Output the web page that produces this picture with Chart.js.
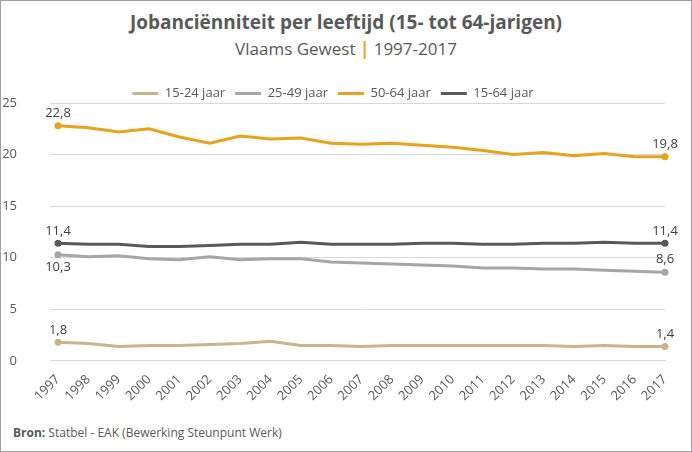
<!DOCTYPE html>
<html><head><meta charset="utf-8">
<script src="https://cdn.jsdelivr.net/npm/chart.js@4"></script>
<style>
html,body{margin:0;padding:0;background:#fff;}
#wrap{position:relative;width:690px;height:450px;border:1px solid #a0a0a0;font-family:"Open Sans",sans-serif;}
#t1{position:absolute;top:8px;width:100%;text-align:center;font-size:19px;font-weight:bold;color:#595959;}
#t2{position:absolute;top:36px;width:100%;text-align:center;font-size:17px;color:#595959;}
#src{position:absolute;left:12px;top:423px;font-size:12px;color:#595959;}
#cv{position:absolute;left:0;top:76px;}
</style></head><body>
<div id="wrap">
<div id="t1">Jobanciënniteit per leeftijd (15- tot 64-jarigen)</div>
<div id="t2">Vlaams Gewest <span style="color:#E8A21E;font-weight:bold">|</span> 1997-2017</div>
<canvas id="cv" width="690" height="330"></canvas>
<div id="src"><b>Bron:</b> Statbel - EAK (Bewerking Steunpunt Werk)</div>
</div>
<script>
const years=["1997","1998","1999","2000","2001","2002","2003","2004","2005","2006","2007","2008","2009","2010","2011","2012","2013","2014","2015","2016","2017"];
const s1524=[1.8,1.7,1.4,1.5,1.5,1.6,1.7,1.9,1.5,1.5,1.4,1.5,1.5,1.5,1.5,1.5,1.5,1.4,1.5,1.4,1.4];
const s2549=[10.3,10.1,10.2,9.9,9.8,10.1,9.8,9.9,9.9,9.6,9.5,9.4,9.3,9.2,9.0,9.0,8.9,8.9,8.8,8.7,8.6];
const s5064=[22.8,22.6,22.2,22.5,21.7,21.1,21.8,21.5,21.6,21.1,21.0,21.1,20.9,20.7,20.4,20.0,20.2,19.9,20.1,19.8,19.8];
const s1564=[11.4,11.3,11.3,11.1,11.1,11.2,11.3,11.3,11.5,11.3,11.3,11.3,11.4,11.4,11.3,11.3,11.4,11.4,11.5,11.4,11.4];
const names=["15-24 jaar","25-49 jaar","50-64 jaar","15-64 jaar"];
const colors=["#C9B48C","#A6A6A6","#E8A21E","#595959"];
const below=[false,true,false,false];
const series=[s1524,s2549,s5064,s1564];
const labelPlugin={id:'lbl',afterDatasetsDraw(c){const ctx=c.ctx;ctx.save();ctx.font='13px "Open Sans"';ctx.fillStyle='#404040';ctx.textAlign='center';
c.data.datasets.forEach((d,i)=>{const m=c.getDatasetMeta(i);[0,d.data.length-1].forEach(j=>{const p=m.data[j];const dn=below[i]&&j===0;
ctx.textBaseline=dn?'top':'bottom';ctx.fillText(d.data[j].toFixed(1).replace('.',','),p.x,dn?p.y+6:p.y-6);});});ctx.restore();}};
new Chart(document.getElementById('cv'),{type:'line',
data:{labels:years,datasets:series.map((s,i)=>({label:names[i],data:s,borderColor:colors[i],backgroundColor:colors[i],borderWidth:3,
pointRadius:s.map((v,j)=>j===0||j===s.length-1?3.5:0),pointBackgroundColor:colors[i],pointBorderWidth:0,tension:0}))},
options:{responsive:false,animation:false,layout:{padding:{left:0,right:26,top:0,bottom:0}},
plugins:{legend:{labels:{boxWidth:26,boxHeight:3,padding:10,color:'#595959',font:{size:13,family:'"Open Sans"'},
generateLabels:(c)=>c.data.datasets.map((d,i)=>({text:d.label,fillStyle:colors[i],strokeStyle:colors[i],lineWidth:0,datasetIndex:i,fontColor:'#595959'}))},
afterFit:null},tooltip:{enabled:false}},
scales:{x:{grid:{display:false},border:{color:'#d9d9d9'},ticks:{color:'#595959',font:{size:13,family:'"Open Sans"'},maxRotation:45,minRotation:45}},
y:{min:0,max:25,afterFit:(s)=>{s.width=57;s.paddingTop=0;},ticks:{stepSize:5,padding:33,color:'#595959',font:{size:13,family:'"Open Sans"'}},grid:{color:'#d9d9d9'},border:{display:false}}}},
plugins:[labelPlugin,{id:'legfit',beforeInit(c){const L=c.legend;},afterInit(c){const L=c.legend;if(L){const f=L.fit.bind(L);L.fit=function(){f();this.height-=7;};}}}]});
</script></body></html>
